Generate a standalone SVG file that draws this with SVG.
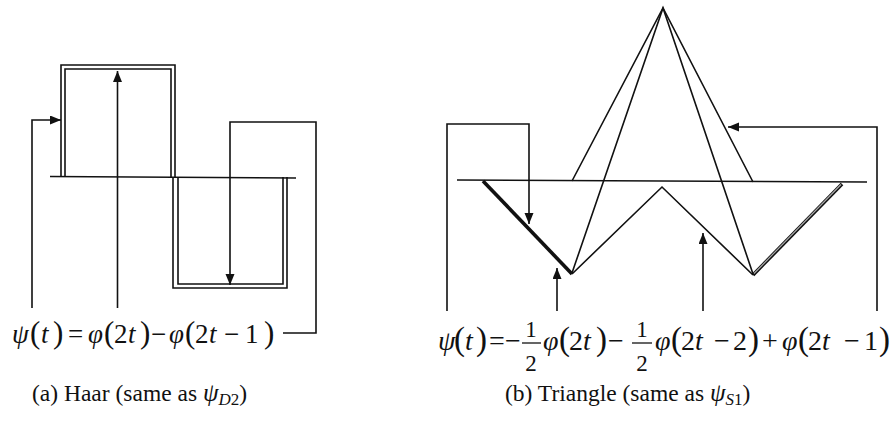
<svg xmlns="http://www.w3.org/2000/svg" width="893" height="422" viewBox="0 0 893 422">
<style>
.sig{fill:none;stroke:#111;stroke-width:1.6;stroke-linejoin:miter}
.ax{fill:none;stroke:#111;stroke-width:1.3}
.con{fill:none;stroke:#111;stroke-width:1.6}
.eq{font-family:"Liberation Serif","Times New Roman",serif;fill:#111}
.it{font-style:italic}
.cap{font-family:"Liberation Serif","Times New Roman",serif;font-size:23.5px;fill:#111}
</style>
<defs>
<marker id="ah" markerUnits="userSpaceOnUse" markerWidth="12" markerHeight="10" refX="11" refY="4.5" orient="auto">
<path d="M0,0 L11,4.5 L0,9 z" fill="#111"/>
</marker>
</defs>
<rect width="893" height="422" fill="#fff"/>

<g id="haar">
<g id="haar-axis"><line class="ax" x1="50" y1="176.5" x2="296" y2="178"/></g>
<g id="haar-pulse">
<path class="sig" d="M61,177 V65 H175 V177"/>
<path class="sig" d="M65,177 V69 H171 V177"/>
<path class="sig" d="M173,177 V288 H287 V177"/>
<path class="sig" d="M178,177 V284 H283 V177"/>
</g>
</g>

<g id="triangle">
<g id="tri-axis"><line class="ax" x1="457" y1="180" x2="867" y2="182"/></g>
<g id="tri-phi">
<path class="sig" d="M572,181 L663,8 L753,182"/>
<path class="sig" d="M572,273 L663,8 L753,274"/>
</g>
<g id="tri-psi">
<path class="sig" d="M572,274 L662,187 L753,275"/>
<line x1="483" y1="181" x2="572" y2="274" stroke="#111" stroke-width="3.6"/>
<line x1="753" y1="275" x2="842" y2="184" stroke="#111" stroke-width="3.6"/>
<line x1="754" y1="273.5" x2="841" y2="184.5" stroke="#aaa" stroke-width="1.2"/>
</g>
</g>

<g id="connectors">
<path class="con" d="M32,308 V120 H61" marker-end="url(#ah)"/>
<path class="con" d="M117.5,308 V71" marker-end="url(#ah)"/>
<path class="con" d="M283,333 H316 V122 H230 V285" marker-end="url(#ah)"/>
<path class="con" d="M447,311 V124 H529 V224" marker-end="url(#ah)"/>
<path class="con" d="M557,311 V268" marker-end="url(#ah)"/>
<path class="con" d="M703,311 V233" marker-end="url(#ah)"/>
<path class="con" d="M877,311 V127 H728" marker-end="url(#ah)"/>
</g>

<g id="eq-haar">
<text class="eq" y="343" font-size="27"><tspan x="12" class="it">ψ</tspan><tspan x="30" font-size="31">(</tspan><tspan x="41" class="it">t</tspan><tspan x="53" font-size="31">)</tspan><tspan x="68">=</tspan><tspan x="88" class="it">φ</tspan><tspan x="104" font-size="31">(</tspan><tspan x="114">2</tspan><tspan x="128" class="it">t</tspan><tspan x="140" font-size="31">)</tspan><tspan x="151">−</tspan><tspan x="169" class="it">φ</tspan><tspan x="185" font-size="31">(</tspan><tspan x="195">2</tspan><tspan x="209" class="it">t</tspan><tspan x="224">−</tspan><tspan x="245">1</tspan><tspan x="264" font-size="31">)</tspan></text>
</g>

<g id="eq-triangle">
<text class="eq" y="350" font-size="28"><tspan x="438" class="it">ψ</tspan><tspan x="454" font-size="33">(</tspan><tspan x="465" class="it">t</tspan><tspan x="476" font-size="33">)</tspan><tspan x="489">=</tspan><tspan x="505">−</tspan><tspan x="543" class="it">φ</tspan><tspan x="559" font-size="33">(</tspan><tspan x="569">2</tspan><tspan x="583" class="it">t</tspan><tspan x="596" font-size="33">)</tspan><tspan x="608">−</tspan><tspan x="655" class="it">φ</tspan><tspan x="671" font-size="33">(</tspan><tspan x="681">2</tspan><tspan x="695" class="it">t</tspan><tspan x="714">−</tspan><tspan x="733">2</tspan><tspan x="748" font-size="33">)</tspan><tspan x="762">+</tspan><tspan x="782" class="it">φ</tspan><tspan x="798" font-size="33">(</tspan><tspan x="808">2</tspan><tspan x="822" class="it">t</tspan><tspan x="844">−</tspan><tspan x="864">1</tspan><tspan x="879" font-size="33">)</tspan></text>
<text class="eq" font-size="23" text-anchor="middle"><tspan x="531" y="337">1</tspan><tspan x="531" y="371">2</tspan><tspan x="642" y="337">1</tspan><tspan x="642" y="371">2</tspan></text>
<line x1="522" y1="343" x2="541" y2="343" stroke="#111" stroke-width="1.3"/>
<line x1="632" y1="343" x2="652" y2="343" stroke="#111" stroke-width="1.3"/>
</g>

<g id="captions">
<text class="cap" x="32" y="401">(a) Haar (same as <tspan class="it" font-size="25">ψ</tspan><tspan class="it" font-size="17" dy="4">D</tspan><tspan font-size="17">2</tspan><tspan dy="-4">)</tspan></text>
<text class="cap" x="505" y="401">(b) Triangle (same as <tspan class="it" font-size="25">ψ</tspan><tspan class="it" font-size="17" dy="4">S</tspan><tspan font-size="17">1</tspan><tspan dy="-4">)</tspan></text>
</g>
</svg>
